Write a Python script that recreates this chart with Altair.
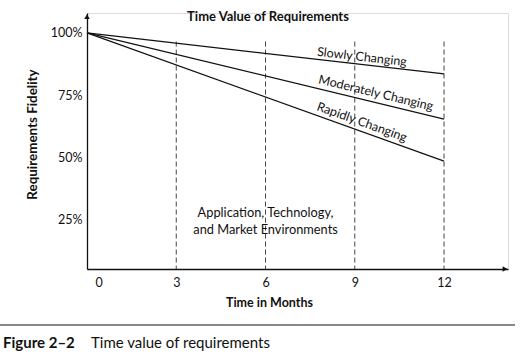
import altair as alt
import pandas as pd

FONT = "Lato"

# ---- data ----
series = ["Slowly Changing", "Moderately Changing", "Rapidly Changing"]
start_month = 0
end_month = 12
start_values = [100, 100, 100]
end_values = [83.5, 65.3, 48.4]

label_months = [9.24, 9.71, 9.24]
label_values = [90.3, 75.8, 64.1]
label_angles = [6.5, 13.5, 19.7]

marker_months = [3, 6, 9, 12]
y_ticks = [25, 50, 75, 100]
x_ticks = [0, 3, 6, 9, 12]

env_lines = ["Application, Technology,", "and Market Environments"]
env_month = 6.0
env_values = [27.4, 20.6]

chart_title = "Time Value of Requirements"
x_title = "Time in Months"
y_title = "Requirements Fidelity"
fig_label = "Figure 2\u20132"
fig_caption = "Time value of requirements"

x_min, x_max = 0, 14.15
y_min, y_max = 5, 108
rule_top = 96.5

# ---- tables ----
lines_df = pd.DataFrame({
    "series": series * 2,
    "month": [start_month] * 3 + [end_month] * 3,
    "value": start_values + end_values,
})
labels_df = pd.DataFrame({"series": series, "month": label_months,
                          "value": label_values, "angle": label_angles})
rules_df = pd.DataFrame({"month": marker_months, "value": [rule_top] * 4, "bottom": [y_min] * 4})
env_df = pd.DataFrame({"text": env_lines, "month": [env_month] * 2, "value": env_values})

xs = alt.Scale(domain=[x_min, x_max], nice=False, zero=False)
ys = alt.Scale(domain=[y_min, y_max], nice=False, zero=False)

x_axis = alt.Axis(
    values=x_ticks, ticks=False, grid=False, domainColor="#111", domainWidth=1.3,
    labelFont=FONT, labelFontSize=12.5, labelColor="#111", labelPadding=7,
    labelOffset=alt.ExprRef("datum.value === 0 ? 8 : 0"),
    title=x_title, titleFont=FONT, titleFontSize=12.5, titleFontWeight="bold",
    titleColor="#111", titleX=182, titleY=33, titleAlign="center",
    titleBaseline="middle")
y_axis = alt.Axis(
    values=y_ticks, ticks=False, grid=False, domainColor="#111", domainWidth=1.3,
    labelExpr="datum.value + '%'", labelFont=FONT, labelFontSize=12.5,
    labelColor="#111", labelPadding=5,
    title=y_title, titleFont=FONT, titleFontSize=13.4, titleFontWeight="bold",
    titleColor="#111", titleX=-55, titleY=121, titleAngle=-90,
    titleAlign="center", titleBaseline="middle")

X = alt.X("month:Q", scale=xs, axis=x_axis)
Y = alt.Y("value:Q", scale=ys, axis=y_axis)

arrow_up = alt.Chart(pd.DataFrame({"month": [x_min], "value": [y_max - 1.5]})).mark_point(
    shape="triangle-up", filled=True, color="#111", size=30, opacity=1
).encode(x=X, y=Y)

arrow_right = alt.Chart(pd.DataFrame({"month": [x_max - 0.1], "value": [y_min]})).mark_point(
    shape="triangle-right", filled=True, color="#111", size=30, opacity=1
).encode(x=X, y=Y)

rules = alt.Chart(rules_df).mark_rule(color="#444", strokeDash=[5, 3], strokeWidth=1).encode(
    x=X, y=Y, y2="bottom:Q",
)

lines = alt.Chart(lines_df).mark_line(color="#111", strokeWidth=1.2).encode(
    x=X, y=Y, detail="series:N",
)

line_labels = [
    alt.Chart(labels_df.iloc[[i]]).mark_text(
        font=FONT, fontSize=12.5, color="#111", angle=float(label_angles[i]),
        align="center", baseline="middle"
    ).encode(x=X, y=Y, text="series:N")
    for i in range(len(series))
]

env_text = alt.Chart(env_df).mark_text(
    font=FONT, fontSize=12.8, color="#111", align="center", baseline="middle"
).encode(x=X, y=Y, text="text:N")

title_text = alt.Chart(pd.DataFrame({"t": [chart_title]})).mark_text(
    font=FONT, fontSize=13, fontWeight="bold", color="#111", align="center", baseline="middle"
).encode(x=alt.value(181), y=alt.value(4), text="t:N")

caption_rule = alt.Chart(pd.DataFrame({"a": [0]})).mark_rule(color="#888", strokeWidth=2).encode(
    x=alt.value(-87), x2=alt.value(428), y=alt.value(312)
)

fig_label_text = alt.Chart(pd.DataFrame({"t": [fig_label]})).mark_text(
    font=FONT, fontSize=15, fontWeight="bold", color="#111", align="left", baseline="middle"
).encode(x=alt.value(-84), y=alt.value(330), text="t:N")

fig_caption_text = alt.Chart(pd.DataFrame({"t": [fig_caption]})).mark_text(
    font=FONT, fontSize=15, color="#111", align="left", baseline="middle"
).encode(x=alt.value(4), y=alt.value(330), text="t:N")

chart = alt.layer(
    rules, lines, *line_labels, env_text, arrow_up, arrow_right,
    title_text, caption_rule, fig_label_text, fig_caption_text
).properties(
    width=421, height=256,
    autosize=alt.AutoSizeParams(type="none"),
    padding={"left": 87, "top": 13, "right": 15, "bottom": 86},
).configure_view(stroke=None).configure(background="white")

chart.save("out.html", embed_options={"renderer": "svg", "actions": False})
